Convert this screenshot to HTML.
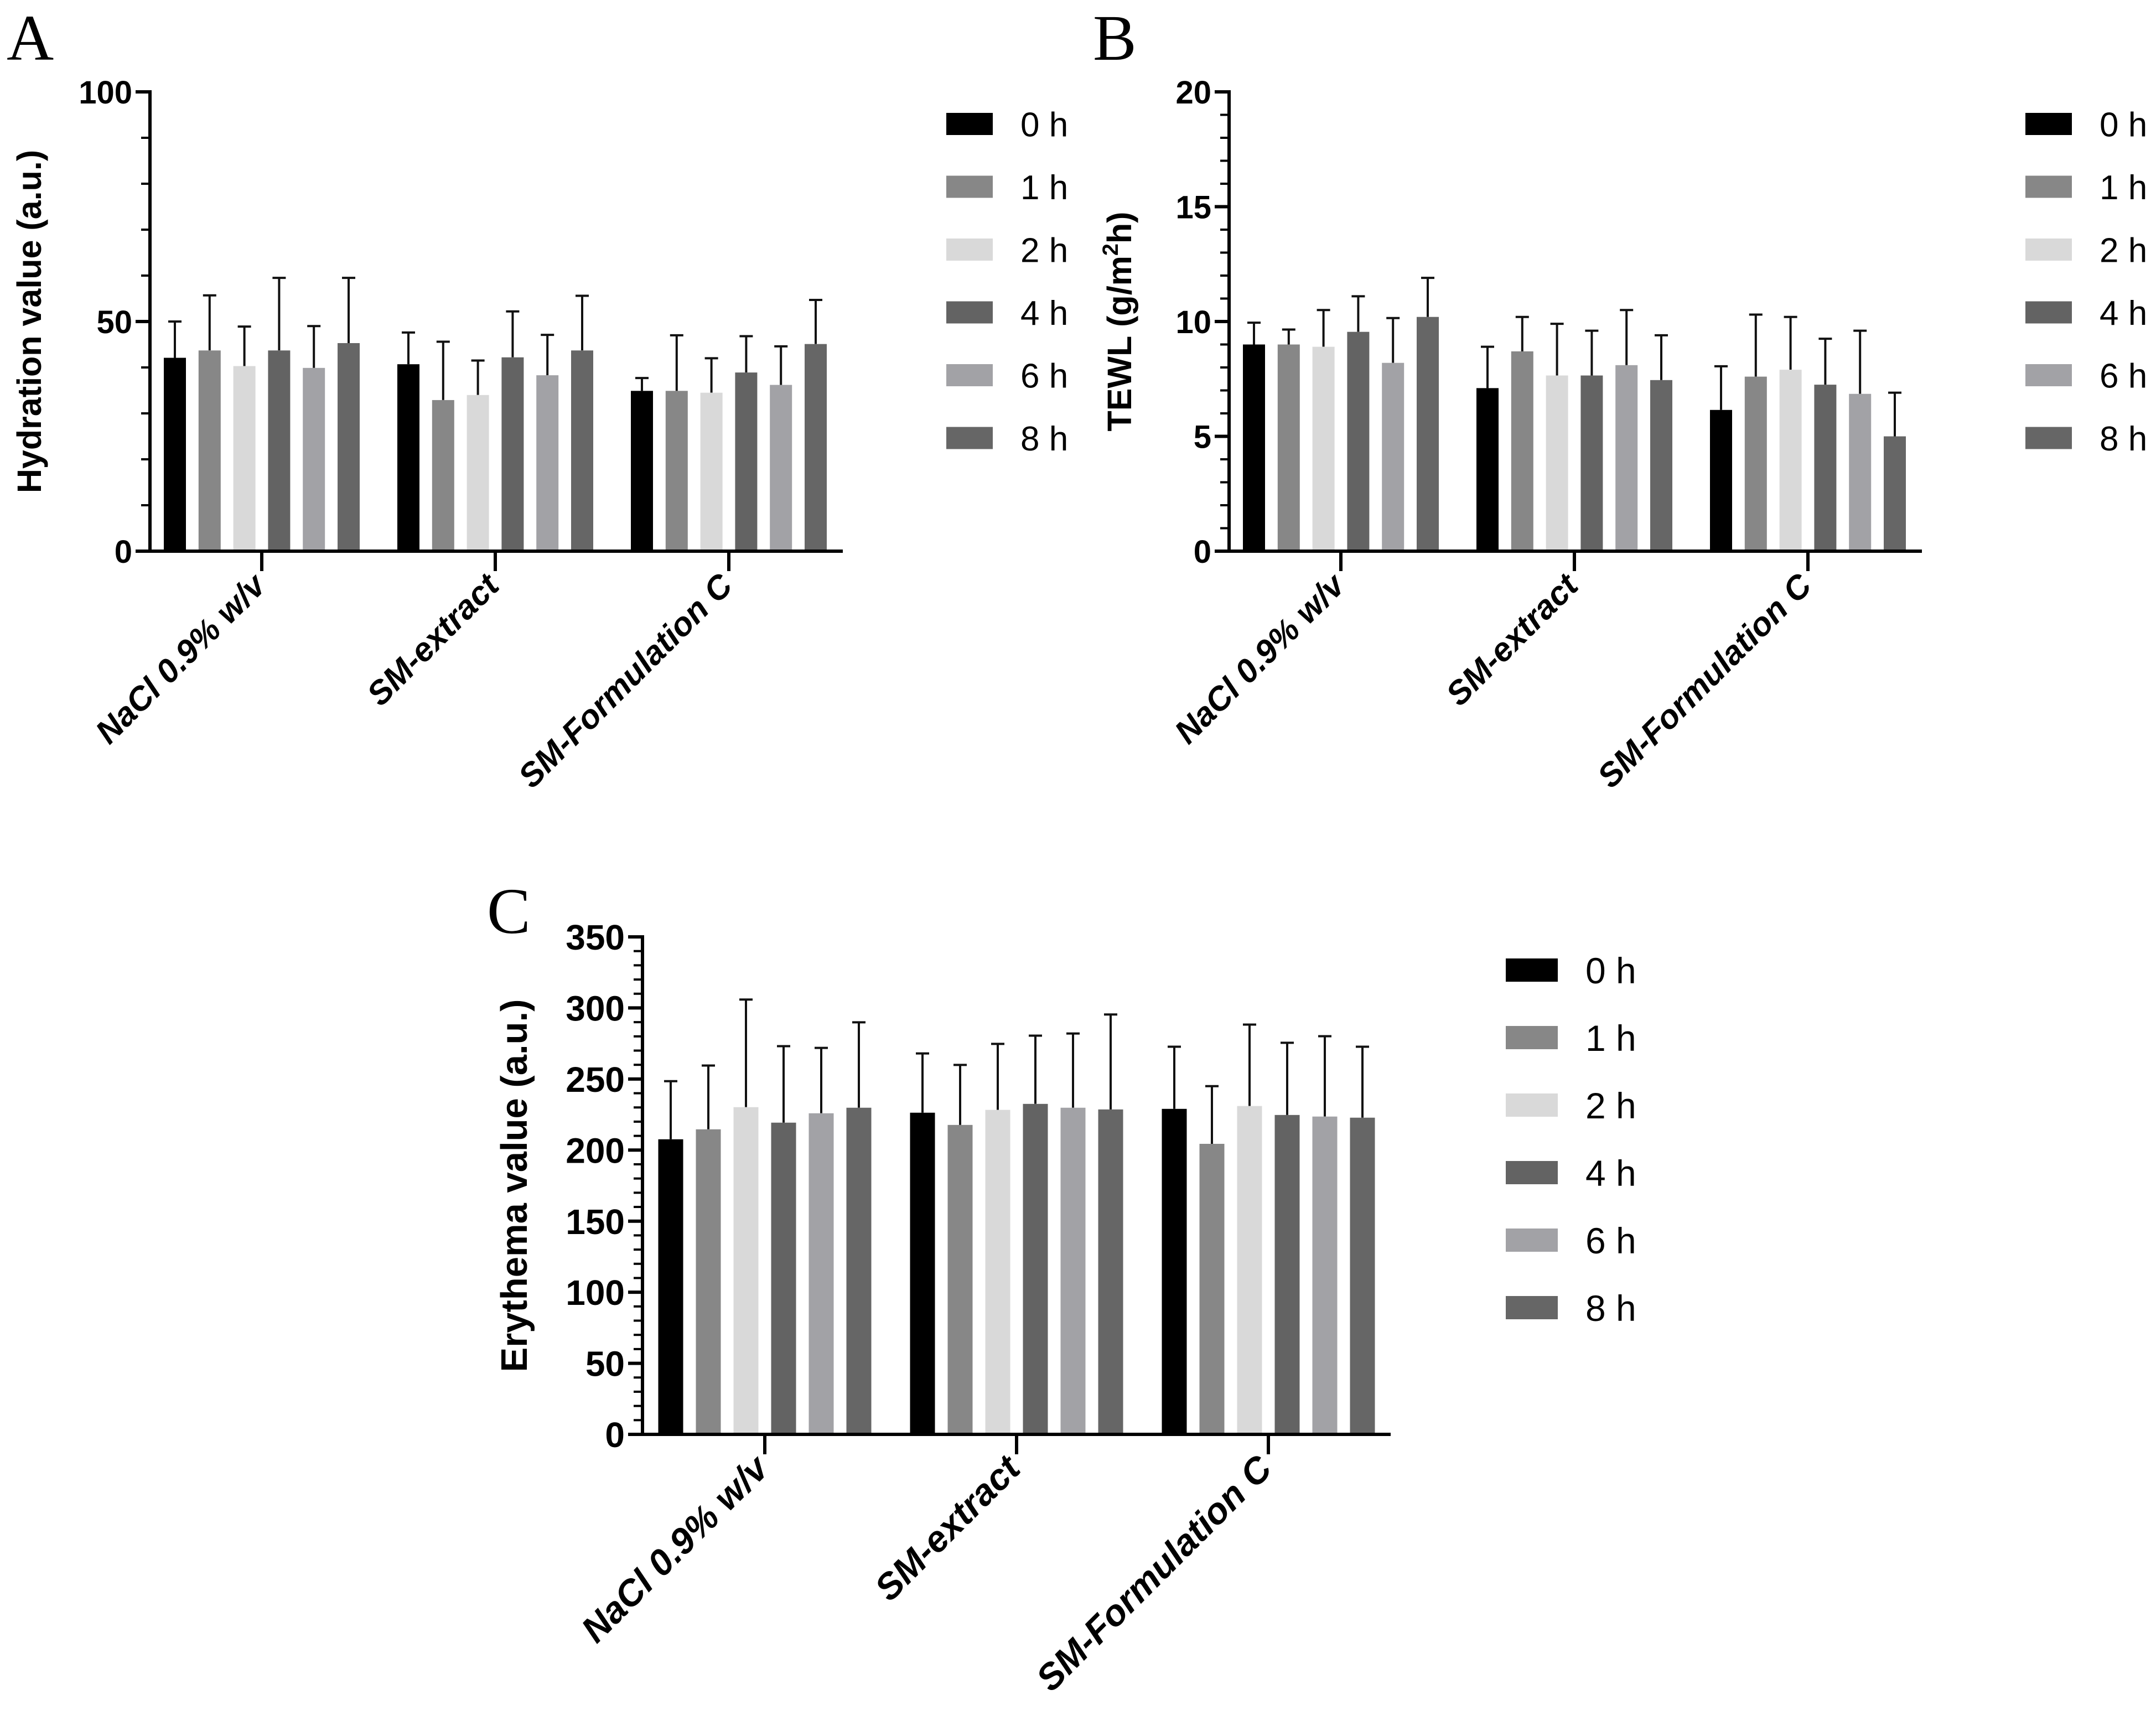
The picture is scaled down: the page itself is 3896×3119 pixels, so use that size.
<!DOCTYPE html>
<html><head><meta charset="utf-8">
<style>
html,body{margin:0;padding:0;background:#fff;}
svg{display:block;}
</style></head>
<body>
<svg id="fig" width="3896" height="3119" viewBox="0 0 3896 3119" xmlns="http://www.w3.org/2000/svg" font-family="Liberation Sans, Arial, sans-serif">
<rect width="3896" height="3119" fill="#fff"/>
</svg>
<script>
const categories = ["NaCl 0.9% w/v", "SM-extract", "SM-Formulation C"];
const seriesNames = ["0 h", "1 h", "2 h", "4 h", "6 h", "8 h"];
const seriesColors = ["#000000", "#878787", "#d9d9d9", "#636363", "#a2a2a6", "#666666"];

// Panel A: Hydration
const hydMean = [[42.1,43.7,40.3,43.7,39.9,45.3],[40.7,32.9,34.0,42.2,38.3,43.7],[34.9,34.9,34.5,38.9,36.2,45.1]];
const hydErr  = [[50.0,55.7,48.9,59.5,49.0,59.5],[47.6,45.6,41.5,52.2,47.1,55.6],[37.7,47.0,42.0,46.8,44.6,54.7]];
const hydTicks = [0,50,100];
// Panel B: TEWL
const tewlMean = [[9.0,9.0,8.9,9.55,8.2,10.2],[7.1,8.7,7.65,7.65,8.1,7.45],[6.15,7.6,7.9,7.25,6.85,5.0]];
const tewlErr  = [[9.95,9.65,10.5,11.1,10.15,11.9],[8.9,10.2,9.9,9.6,10.5,9.4],[8.05,10.3,10.2,9.25,9.6,6.9]];
const tewlTicks = [0,5,10,15,20];
// Panel C: Erythema
const eryMean = [[207.6,214.6,230.2,219.3,225.9,229.8],[226.3,217.7,228.3,232.5,229.8,228.6],[229.0,204.4,231.0,224.7,223.6,222.8]];
const eryErr  = [[248.5,259.5,305.9,273.1,271.9,289.9],[268.0,259.9,274.7,280.5,282.0,295.4],[272.7,245.0,288.3,275.5,280.1,272.7]];
const eryTicks = [0,50,100,150,200,250,300,350];

const NS = "http://www.w3.org/2000/svg";
const svg = document.getElementById("fig");
function mk(tag, attrs, parent){
  const e = document.createElementNS(NS, tag);
  for (const k in attrs) e.setAttribute(k, attrs[k]);
  (parent||svg).appendChild(e);
  return e;
}

function drawPanel(p){
  const g = mk("g", {});
  
  
  const y = v => p.y0 - v / p.max * (p.y0 - p.yTop);
  const gx = i => p.ax + p.firstOff + i * p.groupW;
  const lt = mk("text", {x:p.letterX, y:p.letterY, style:"font-family:'Liberation Serif',serif", "font-size":118}, g);
  lt.textContent = p.letter;
  
  
  p.mean.forEach((grp, ci) => {
    grp.forEach((v, si) => {
      const x = gx(ci) - (5*p.step + p.barW)/2 + si*p.step;
      const cx = x + p.barW/2;
      const eb = mk("line", {x1:cx, x2:cx, y1:y(v), y2:y(p.err[ci][si]), stroke:"#111", "stroke-width":4}, g);
      
      
      const cap = mk("line", {x1:cx-12, x2:cx+12, y1:y(p.err[ci][si]), y2:y(p.err[ci][si]), stroke:"#111", "stroke-width":4}, g);
      
      
      const r = mk("rect", {x:x, y:y(v), width:p.barW, height:p.y0 - y(v), fill:seriesColors[si]}, g);
      
      
    });
  });
  const ya = mk("line", {x1:p.ax, x2:p.ax, y1:p.yTop-3, y2:p.y0+3, stroke:"#000", "stroke-width":6}, g);
  
  
  for (let v = 0; v <= p.max + 1e-9; v += p.minor){
    const isMajor = p.ticks.some(t => Math.abs(t - v) < 1e-6);
    const tk = mk("line", {x1:p.ax - (isMajor?26:16), x2:p.ax, y1:y(v), y2:y(v), stroke:"#000", "stroke-width":isMajor?6:4}, g);
    
    
  }
  p.ticks.forEach(t => {
    const tl = mk("text", {x:p.ax - 32, y:y(t) + p.tickFont*0.36, "text-anchor":"end", "font-size":p.tickFont, "font-weight":"bold"}, g);
    tl.textContent = t;
    
    
  });
  const xa = mk("line", {x1:p.ax-3, x2:p.xEnd, y1:p.y0, y2:p.y0, stroke:"#000", "stroke-width":6}, g);
  
  
  categories.forEach((c, ci) => {
    const tx = gx(ci);
    const tk = mk("line", {x1:tx, x2:tx, y1:p.y0, y2:p.y0+36, stroke:"#000", "stroke-width":6}, g);
    
    
    const lx = tx + 10, ly = p.y0 + 66;
    const tl = mk("text", {x:lx, y:ly, "text-anchor":"end", "font-size":p.catFont, "font-weight":"bold", "font-style":"italic", transform:`rotate(-45 ${lx} ${ly})`}, g);
    tl.textContent = c;
    
    
  });
  const tx = p.titleX, ty = (p.yTop + p.y0)/2;
  const yt = mk("text", {x:tx, y:ty, "text-anchor":"middle", "font-size":p.titleFont, "font-weight":"bold", transform:`rotate(-90 ${tx} ${ty})`}, g);
  if (p.tewl){
    yt.appendChild(document.createTextNode("TEWL (g/m"));
    const s = mk("tspan", {"font-size":p.titleFont*0.65, dy:-24}, yt); s.textContent = "2";
    const h = mk("tspan", {dy:24}, yt); h.textContent = "h)";
  } else yt.textContent = p.title;
  
  
  seriesNames.forEach((n, si) => {
    const ly = p.legY + si*p.legStep;
    const lg = mk("g", {}, g);
    
    
    mk("rect", {x:p.legX, y:ly, width:p.legW, height:p.legH, fill:seriesColors[si]}, lg);
    const t = mk("text", {x:p.legX + p.legW + 50, y:ly + p.legH/2 + p.legFont*0.36, "font-size":p.legFont}, lg);
    t.textContent = n;
  });
}

drawPanel({id:"hydration", letter:"A", letterX:12, letterY:108, ax:271, yTop:166, y0:996, max:100, minor:10, ticks:hydTicks,
  mean:hydMean, err:hydErr, firstOff:202, groupW:422, barW:40, step:62.8, xEnd:1523,
  tickFont:58, catFont:60, titleFont:61, titleX:74, title:"Hydration value (a.u.)",
  legX:1710, legY:204, legW:84, legH:40, legStep:113.5, legFont:62});
drawPanel({id:"tewl", letter:"B", letterX:1975, letterY:108, ax:2221, yTop:166, y0:996, max:20, minor:1, ticks:tewlTicks,
  mean:tewlMean, err:tewlErr, firstOff:202, groupW:422, barW:40, step:62.8, xEnd:3473,
  tickFont:58, catFont:60, titleFont:61, titleX:2044, tewl:true,
  legX:3660, legY:204, legW:84, legH:40, legStep:113.5, legFont:62});
drawPanel({id:"erythema", letter:"C", letterX:880, letterY:1686, ax:1161, yTop:1693, y0:2592, max:350, minor:10, ticks:eryTicks,
  mean:eryMean, err:eryErr, firstOff:221, groupW:455, barW:45, step:68, xEnd:2513,
  tickFont:64, catFont:66, titleFont:67, titleX:952, title:"Erythema value (a.u.)",
  legX:2721, legY:1732, legW:94, legH:42, legStep:122, legFont:66});
</script>
</body></html>
